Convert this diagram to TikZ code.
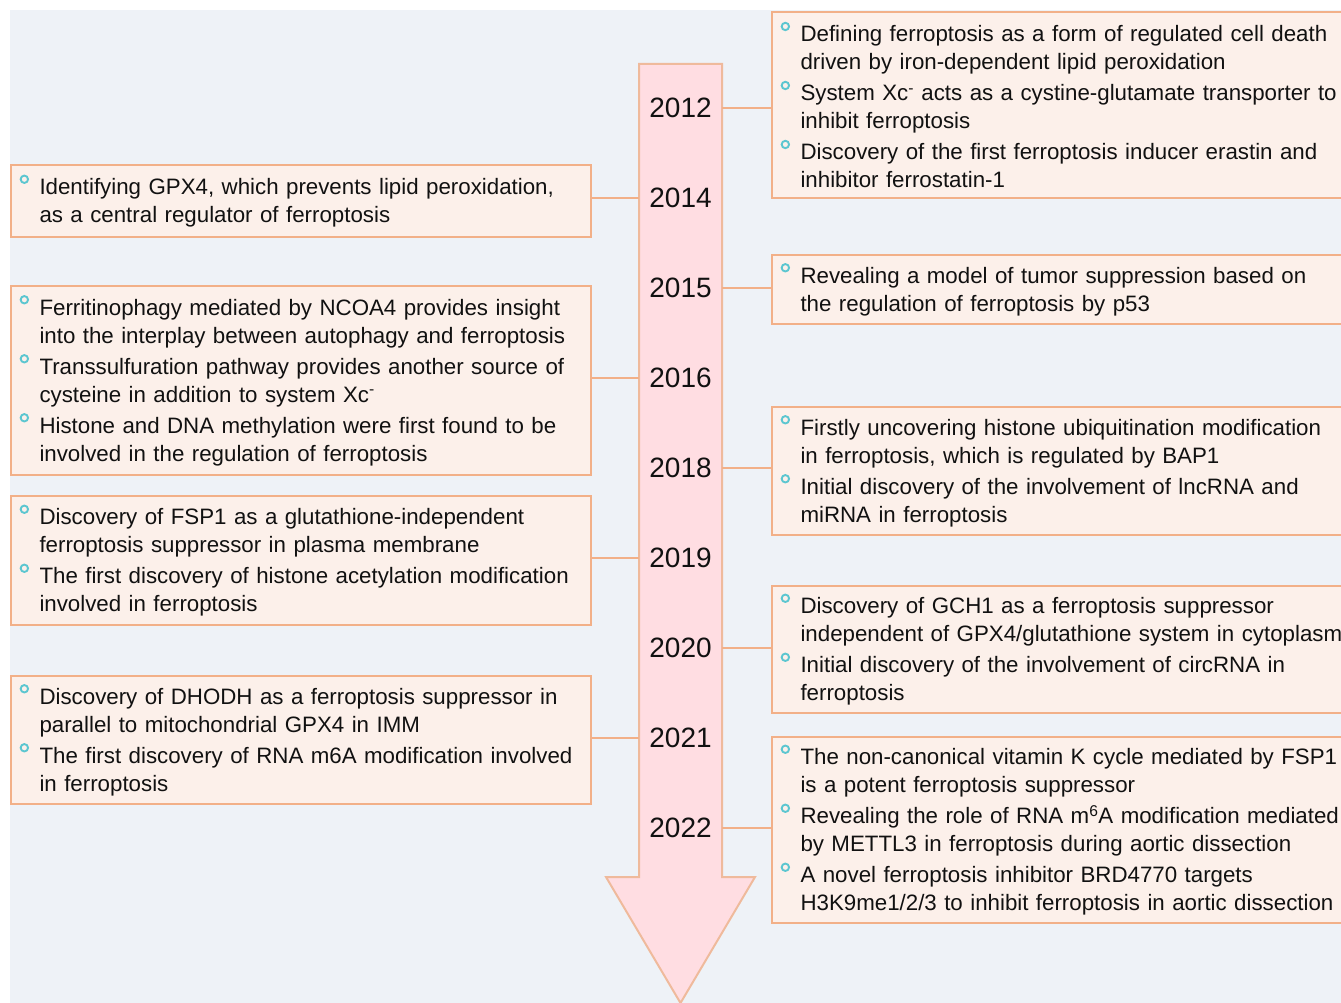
\documentclass[tikz,border=0pt]{standalone}
\usepackage{fontspec}
\setmainfont{Liberation Sans}
\usepackage{xcolor}
\usetikzlibrary{positioning}

\definecolor{bgc}{HTML}{EEF2F7}
\definecolor{boxc}{HTML}{FCF0EA}
\definecolor{edgec}{HTML}{F2B088}
\definecolor{shaftc}{HTML}{FFDDE2}
\definecolor{shaftedge}{HTML}{EFBA9C}
\definecolor{ringc}{HTML}{5CC6D0}
\definecolor{inkc}{HTML}{111111}

\newcommand{\ringdot}{\leavevmode\llap{\tikz[baseline={(0pt,-15.5pt)}]\draw[ringc,line width=1.9pt] (0pt,0pt) circle (3.7pt);\hspace{10.5pt}}}

\begin{document}
\begin{tikzpicture}[
    x=1pt, y=-1pt,
    entry/.style={rectangle, draw=edgec, fill=boxc, line width=2pt, anchor=north west,
        inner xsep=10pt, inner ysep=0pt, align=left, text=inkc,
        font=\fontsize{22.3}{28}\selectfont, execute at begin node={\leftskip=18.5pt}},
    lbox/.style={entry, text width=560pt, minimum width=580pt},
    rbox/.style={entry, text width=600pt, minimum width=620pt},
    yr/.style={minimum width=83pt, inner sep=0pt, text=inkc, font=\fontsize{28}{28}\selectfont},
    link/.style={draw=edgec, line width=2pt}
]
\useasboundingbox (0,0) rectangle (1341,1003);
\clip (0,0) rectangle (1341,1003);
\fill[bgc] (10,10) rectangle (1341,1003);

\draw[fill=shaftc, draw=shaftedge, line width=2pt]
    (639,64) -- (722,64) -- (722,877) -- (755,877) -- (680.5,1003)
    -- (606,877) -- (639,877) -- cycle;

\node[yr] (y2012) at (680.5,108) {2012};
\node[yr] (y2014) at (680.5,198) {2014};
\node[yr] (y2015) at (680.5,288) {2015};
\node[yr] (y2016) at (680.5,378) {2016};
\node[yr] (y2018) at (680.5,468) {2018};
\node[yr] (y2019) at (680.5,558) {2019};
\node[yr] (y2020) at (680.5,648) {2020};
\node[yr] (y2021) at (680.5,738) {2021};
\node[yr] (y2022) at (680.5,828) {2022};

\node[rbox, minimum height=186pt] (b2012) at (771,11) {\ringdot Defining ferroptosis as a form of regulated cell death\\ driven by iron-dependent lipid peroxidation\\[3pt]
    \ringdot System Xc\textsuperscript{-} acts as a cystine-glutamate transporter to\\ inhibit ferroptosis\\[3pt]
    \ringdot Discovery of the first ferroptosis inducer erastin and\\ inhibitor ferrostatin-1};
\node[rbox, minimum height=69pt] (b2015) at (771,254) {\ringdot Revealing a model of tumor suppression based on\\ the regulation of ferroptosis by p53};
\node[rbox, minimum height=128pt] (b2018) at (771,406) {\ringdot Firstly uncovering histone ubiquitination modification\\ in ferroptosis, which is regulated by BAP1\\[3pt]
    \ringdot Initial discovery of the involvement of lncRNA and\\ miRNA in ferroptosis};
\node[rbox, minimum height=127pt] (b2020) at (771,585) {\ringdot Discovery of GCH1 as a ferroptosis suppressor\\ independent of GPX4/glutathione system in cytoplasm\\[3pt]
    \ringdot Initial discovery of the involvement of circRNA in\\ ferroptosis};
\node[rbox, minimum height=186pt] (b2022) at (771,736) {\ringdot The non-canonical vitamin K cycle mediated by FSP1\\ is a potent ferroptosis suppressor\\[3pt]
    \ringdot Revealing the role of RNA m\textsuperscript{6}A modification mediated\\ by METTL3 in ferroptosis during aortic dissection\\[3pt]
    \ringdot A novel ferroptosis inhibitor BRD4770 targets\\ H3K9me1/2/3 to inhibit ferroptosis in aortic dissection};

\node[lbox, minimum height=72pt] (b2014) at (10,164) {\ringdot Identifying GPX4, which prevents lipid peroxidation,\\ as a central regulator of ferroptosis};
\node[lbox, minimum height=189pt] (b2016) at (10,285) {\ringdot Ferritinophagy mediated by NCOA4 provides insight\\ into the interplay between autophagy and ferroptosis\\[3pt]
    \ringdot Transsulfuration pathway provides another source of\\ cysteine in addition to system Xc\textsuperscript{-}\\[3pt]
    \ringdot Histone and DNA methylation were first found to be\\ involved in the regulation of ferroptosis};
\node[lbox, minimum height=129pt] (b2019) at (10,495) {\ringdot Discovery of FSP1 as a glutathione-independent\\ ferroptosis suppressor in plasma membrane\\[3pt]
    \ringdot The first discovery of histone acetylation modification\\ involved in ferroptosis};
\node[lbox, minimum height=128pt] (b2021) at (10,675) {\ringdot Discovery of DHODH as a ferroptosis suppressor in\\ parallel to mitochondrial GPX4 in IMM\\[3pt]
    \ringdot The first discovery of RNA m6A modification involved\\ in ferroptosis};

\draw[link] (y2012.east) -- (y2012.east -| b2012.west);
\draw[link] (y2015.east) -- (y2015.east -| b2015.west);
\draw[link] (y2018.east) -- (y2018.east -| b2018.west);
\draw[link] (y2020.east) -- (y2020.east -| b2020.west);
\draw[link] (y2022.east) -- (y2022.east -| b2022.west);
\draw[link] (y2014.west) -- (y2014.west -| b2014.east);
\draw[link] (y2016.west) -- (y2016.west -| b2016.east);
\draw[link] (y2019.west) -- (y2019.west -| b2019.east);
\draw[link] (y2021.west) -- (y2021.west -| b2021.east);
\end{tikzpicture}
\end{document}
